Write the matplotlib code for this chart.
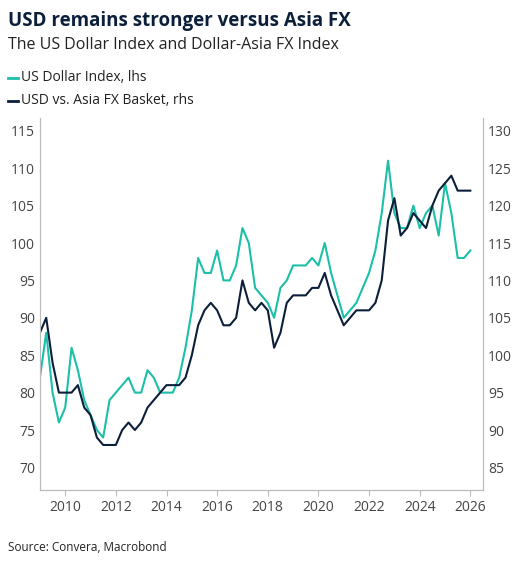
import numpy as np
import matplotlib.pyplot as plt

plt.rcParams['font.family'] = ['Open Sans', 'DejaVu Sans']

# quarterly readings from the picture, 2009Q1 .. 2026Q1
start_year = 2009.0
dxy = [82, 88, 80, 76, 78, 86, 83, 79, 77, 75, 74, 79, 80, 81, 82, 80,
       80, 83, 82, 80, 80, 80, 82, 86, 91, 98, 96, 96, 99, 95, 95, 97,
       102, 100, 94, 93, 92, 90, 94, 95, 97, 97, 97, 98, 97, 100, 96, 93,
       90, 91, 92, 94, 96, 99, 104, 111, 104, 102, 102, 105, 102, 104, 105, 101,
       108, 104, 98, 98, 99]
asia = [103, 105, 99, 95, 95, 95, 96, 93, 92, 89, 88, 88, 88, 90, 91, 90,
        91, 93, 94, 95, 96, 96, 96, 97, 100, 104, 106, 107, 106, 104, 104, 105,
        110, 107, 106, 107, 106, 101, 103, 107, 108, 108, 108, 109, 109, 111, 108, 106,
        104, 105, 106, 106, 106, 107, 110, 118, 121, 116, 117, 119, 118, 117, 120, 122,
        123, 124, 122, 122, 122]
years = start_year + 0.25 * np.arange(len(dxy))

teal = '#1CBFA8'
navy = '#0B1F3A'
grey = '#444444'

fig = plt.figure(figsize=(5.25, 5.65), dpi=100)
ax = fig.add_axes([0.076, 0.133, 0.844, 0.658])
ax2 = ax.twinx()

ax.plot(years, dxy, color=teal, lw=1.5)
ax2.plot(years, asia, color=navy, lw=1.5)

ax.set_xlim(2009, 2026.5)
ax.set_ylim(67, 116.7)
ax2.set_ylim(82, 131.7)
ax.set_yticks(range(70, 116, 5))
ax2.set_yticks(range(85, 131, 5))
ax.set_xticks(range(2010, 2027, 2))

for a in (ax, ax2):
    for s in a.spines.values():
        s.set_color('#BBBBBB')
    a.spines['top'].set_visible(False)
    a.tick_params(labelsize=10, colors=grey, length=0)
ax.tick_params(axis='x', length=4, color='#BBBBBB')

fig.text(0.015, 0.98, 'USD remains stronger versus Asia FX', fontsize=13.5,
         fontweight='bold', color=navy, va='top')
fig.text(0.015, 0.935, 'The US Dollar Index and Dollar-Asia FX Index', fontsize=11.5,
         color='#222222', va='top')
fig.lines.append(plt.Line2D([0.015, 0.035], [0.862, 0.862], color=teal, lw=2, transform=fig.transFigure))
fig.text(0.04, 0.862, 'US Dollar Index, lhs', fontsize=10, color='#222222', va='center')
fig.lines.append(plt.Line2D([0.015, 0.035], [0.822, 0.822], color=navy, lw=2, transform=fig.transFigure))
fig.text(0.04, 0.822, 'USD vs. Asia FX Basket, rhs', fontsize=10, color='#222222', va='center')
fig.text(0.015, 0.025, 'Source: Convera, Macrobond', fontsize=8.5, color='#222222')

fig.savefig('out.png')
